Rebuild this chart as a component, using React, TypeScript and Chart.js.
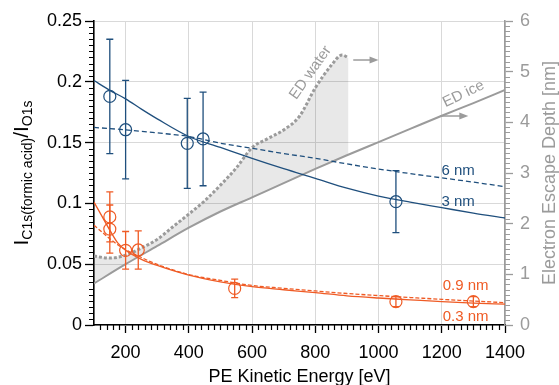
import React, { useEffect, useRef } from "react";
import { Chart, registerables } from "chart.js";

Chart.register(...registerables);

const FONT = '"Liberation Sans", Arial, Helvetica, sans-serif';
const BLUE = "#1f4f7d";
const ORANGE = "#ef5b25";
const GRAY = "#9b9b9b";

// axis ticks
const xTicks = [200, 400, 600, 800, 1000, 1200, 1400];
const yTicks = [0, 0.05, 0.1, 0.15, 0.2, 0.25];
const yTickLabels = ["0", "0.05", "0.1", "0.15", "0.2", "0.25"];
const y2Ticks = [0, 1, 2, 3, 4, 5, 6];

// measured ratios (blue)
const blueE = [150, 200, 395, 445, 1055];
const blueRatio = [0.188, 0.1606, 0.1494, 0.153, 0.1014];
const blueErr = [0.047, 0.0405, 0.037, 0.0385, 0.0255];

// measured ratios (orange)
const orangeE = [150, 150, 200, 240, 545, 1055, 1300];
const orangeRatio = [0.0889, 0.0789, 0.0614, 0.0617, 0.0301, 0.0192, 0.0192];
const orangeErr = [0.0205, 0.0198, 0.0155, 0.0157, 0.0076, 0.0041, 0.0041];

// model curves (blue)
const blueCurveE = [100, 150, 200, 250, 300, 400, 500, 600, 700, 800, 900, 1000, 1100, 1200, 1300, 1400];
const fit3nm = [0.201, 0.193, 0.186, 0.1775, 0.1695, 0.155, 0.146, 0.137, 0.1285, 0.1206, 0.1125, 0.106, 0.101, 0.0965, 0.092, 0.088];
const fit6nm = [0.1625, 0.1615, 0.1605, 0.1593, 0.158, 0.155, 0.1495, 0.1453, 0.141, 0.1371, 0.1325, 0.1283, 0.1245, 0.121, 0.1175, 0.1137];

// model curves (orange)
const orangeCurveE = [100, 125, 150, 175, 200, 250, 300, 400, 500, 600, 700, 800, 900, 1000, 1100, 1200, 1300, 1400];
const fit03nm = [0.101, 0.0895, 0.078, 0.0675, 0.0615, 0.054, 0.049, 0.041, 0.0355, 0.0315, 0.029, 0.0266, 0.024, 0.0222, 0.0207, 0.0192, 0.018, 0.0171];
const fit09nm = [0.082, 0.0765, 0.071, 0.066, 0.062, 0.0555, 0.0498, 0.0415, 0.0367, 0.0325, 0.0302, 0.028, 0.0259, 0.0242, 0.0226, 0.0211, 0.0197, 0.0184];

// electron escape depth (nm)
const iceE = [100, 200, 300, 400, 500, 600, 700, 800, 900, 1000, 1100, 1200, 1300, 1400];
const iceDepth = [0.82, 1.2, 1.56, 1.92, 2.24, 2.52, 2.8, 3.08, 3.35, 3.61, 3.87, 4.13, 4.38, 4.64];
const waterE = [100, 150, 200, 250, 300, 350, 400, 450, 500, 550, 600, 650, 700, 750, 800, 850, 885, 905];
const waterDepth = [1.36, 1.32, 1.38, 1.52, 1.69, 1.94, 2.19, 2.45, 2.76, 3.1, 3.5, 3.68, 3.85, 4.12, 4.68, 5.12, 5.33, 5.27];

const pts = (xs: number[], ys: number[]) => xs.map((x, i) => ({ x, y: ys[i] }));

const extrasPlugin = {
  id: "extras",
  afterDatasetsDraw(chart: any) {
    const ctx = chart.ctx as CanvasRenderingContext2D;
    const xs = chart.scales.x;
    const ys = chart.scales.y;
    const y2 = chart.scales.y2;
    ctx.save();
    const drawErr = (E: number[], V: number[], Er: number[], color: string) => {
      ctx.strokeStyle = color;
      ctx.lineWidth = 1.3;
      E.forEach((e, i) => {
        const px = xs.getPixelForValue(e);
        const top = ys.getPixelForValue(V[i] + Er[i]);
        const bot = ys.getPixelForValue(V[i] - Er[i]);
        ctx.beginPath();
        ctx.moveTo(px, top);
        ctx.lineTo(px, bot);
        ctx.moveTo(px - 3.5, top);
        ctx.lineTo(px + 3.5, top);
        ctx.moveTo(px - 3.5, bot);
        ctx.lineTo(px + 3.5, bot);
        ctx.stroke();
      });
    };
    drawErr(blueE, blueRatio, blueErr, BLUE);
    drawErr(orangeE, orangeRatio, orangeErr, ORANGE);

    // arrows
    const arrow = (e1: number, e2: number, d: number) => {
      const x1 = xs.getPixelForValue(e1);
      const x2 = xs.getPixelForValue(e2);
      const py = y2.getPixelForValue(d);
      ctx.strokeStyle = GRAY;
      ctx.fillStyle = GRAY;
      ctx.lineWidth = 1.5;
      ctx.beginPath();
      ctx.moveTo(x1, py);
      ctx.lineTo(x2 - 6, py);
      ctx.stroke();
      ctx.beginPath();
      ctx.moveTo(x2, py);
      ctx.lineTo(x2 - 9, py - 3.5);
      ctx.lineTo(x2 - 9, py + 3.5);
      ctx.closePath();
      ctx.fill();
    };
    arrow(920, 1000, 5.23);
    arrow(1194, 1284, 4.125);

    const rotText = (t: string, e: number, d: number, deg: number) => {
      ctx.save();
      ctx.translate(xs.getPixelForValue(e), y2.getPixelForValue(d));
      ctx.rotate((deg * Math.PI) / 180);
      ctx.font = `15px ${FONT}`;
      ctx.fillStyle = GRAY;
      ctx.textAlign = "center";
      ctx.textBaseline = "middle";
      ctx.fillText(t, 0, 0);
      ctx.restore();
    };
    rotText("ED water", 785, 4.98, -55);
    rotText("ED ice", 1269, 4.56, -26);

    const label = (t: string, e: number, v: number, color: string) => {
      ctx.font = `15px ${FONT}`;
      ctx.fillStyle = color;
      ctx.textAlign = "left";
      ctx.textBaseline = "middle";
      ctx.fillText(t, xs.getPixelForValue(e), ys.getPixelForValue(v));
    };
    label("6 nm", 1199, 0.1266, BLUE);
    label("3 nm", 1199, 0.1016, BLUE);
    label("0.9 nm", 1203, 0.0322, ORANGE);
    label("0.3 nm", 1203, 0.0066, ORANGE);
    ctx.restore();
  },
  afterDraw(chart: any) {
    const ctx = chart.ctx as CanvasRenderingContext2D;
    const ca = chart.chartArea;
    const xs = chart.scales.x;
    const ys = chart.scales.y;
    const y2 = chart.scales.y2;
    ctx.save();
    // minor ticks
    ctx.lineWidth = 1.2;
    ctx.strokeStyle = "#000";
    ctx.beginPath();
    for (let v = 120; v < 1400; v += 20) {
      if (v % 200 === 0) continue;
      const px = Math.round(xs.getPixelForValue(v)) + 0.5;
      ctx.moveTo(px, ca.bottom);
      ctx.lineTo(px, ca.bottom + 5);
    }
    for (let k = 1; k < 50; k++) {
      if (k % 10 === 0) continue;
      const py = Math.round(ys.getPixelForValue(k * 0.005)) + 0.5;
      ctx.moveTo(ca.left, py);
      ctx.lineTo(ca.left - 5, py);
    }
    ctx.stroke();
    ctx.strokeStyle = GRAY;
    ctx.beginPath();
    for (let k = 1; k < 60; k++) {
      if (k % 10 === 0) continue;
      const py = Math.round(y2.getPixelForValue(k / 10)) + 0.5;
      ctx.moveTo(ca.right, py);
      ctx.lineTo(ca.right + 5, py);
    }
    ctx.stroke();

    // x title
    ctx.fillStyle = "#000";
    ctx.font = `18px ${FONT}`;
    ctx.textAlign = "center";
    ctx.textBaseline = "middle";
    ctx.fillText("PE Kinetic Energy [eV]", (ca.left + ca.right) / 2, 377);

    // right title
    ctx.save();
    ctx.translate(555, (ca.top + ca.bottom) / 2);
    ctx.rotate(-Math.PI / 2);
    ctx.fillStyle = GRAY;
    ctx.font = `18px ${FONT}`;
    ctx.textAlign = "center";
    ctx.textBaseline = "alphabetic";
    ctx.fillText("Electron Escape Depth [nm]", 0, 0);
    ctx.restore();

    // left title
    ctx.save();
    ctx.translate(28, (ca.top + ca.bottom) / 2);
    ctx.rotate(-Math.PI / 2);
    ctx.fillStyle = "#000";
    ctx.textAlign = "left";
    ctx.textBaseline = "alphabetic";
    const parts: [string, number, number][] = [
      ["I", 21, 0],
      ["C1s(formic acid)", 14, 4],
      ["/", 21, 0],
      ["I", 21, 0],
      ["O1s", 14, 4],
    ];
    let total = 0;
    parts.forEach(([t, s]) => {
      ctx.font = `${s}px ${FONT}`;
      total += ctx.measureText(t).width;
    });
    let x = -total / 2;
    parts.forEach(([t, s, off]) => {
      ctx.font = `${s}px ${FONT}`;
      ctx.fillText(t, x, off);
      x += ctx.measureText(t).width;
    });
    ctx.restore();
    ctx.restore();
  },
};

export default function App() {
  const ref = useRef<HTMLCanvasElement>(null);
  useEffect(() => {
    document.body.style.margin = "0";
    const tickFont = { family: FONT, size: 18 };
    const chart = new Chart(ref.current as HTMLCanvasElement, {
      type: "line",
      data: {
        datasets: [
          {
            label: "ED ice",
            data: pts(iceE, iceDepth),
            yAxisID: "y2",
            borderColor: GRAY,
            borderWidth: 2,
            pointRadius: 0,
            fill: false,
            cubicInterpolationMode: "monotone",
            order: 10,
          },
          {
            label: "ED water",
            data: pts(waterE, waterDepth),
            yAxisID: "y2",
            borderColor: GRAY,
            borderWidth: 3,
            borderDash: [3, 2],
            pointRadius: 0,
            fill: { target: 0 },
            backgroundColor: "rgba(0,0,0,0.09)",
            cubicInterpolationMode: "monotone",
            order: 9,
          },
          {
            label: "3 nm",
            data: pts(blueCurveE, fit3nm),
            yAxisID: "y",
            borderColor: BLUE,
            borderWidth: 1.3,
            pointRadius: 0,
            fill: false,
            cubicInterpolationMode: "monotone",
            order: 5,
          },
          {
            label: "6 nm",
            data: pts(blueCurveE, fit6nm),
            yAxisID: "y",
            borderColor: BLUE,
            borderWidth: 1.3,
            borderDash: [5, 3],
            pointRadius: 0,
            fill: false,
            cubicInterpolationMode: "monotone",
            order: 5,
          },
          {
            label: "0.3 nm",
            data: pts(orangeCurveE, fit03nm),
            yAxisID: "y",
            borderColor: ORANGE,
            borderWidth: 1.3,
            pointRadius: 0,
            fill: false,
            cubicInterpolationMode: "monotone",
            order: 5,
          },
          {
            label: "0.9 nm",
            data: pts(orangeCurveE, fit09nm),
            yAxisID: "y",
            borderColor: ORANGE,
            borderWidth: 1.3,
            borderDash: [4, 2],
            pointRadius: 0,
            fill: false,
            cubicInterpolationMode: "monotone",
            order: 5,
          },
          {
            label: "blue data",
            data: pts(blueE, blueRatio),
            yAxisID: "y",
            showLine: false,
            pointRadius: 6,
            pointBorderWidth: 1.2,
            pointBorderColor: BLUE,
            pointBackgroundColor: "rgba(0,0,0,0)",
            borderColor: BLUE,
            order: 1,
          },
          {
            label: "orange data",
            data: pts(orangeE, orangeRatio),
            yAxisID: "y",
            showLine: false,
            pointRadius: 6,
            pointBorderWidth: 1.2,
            pointBorderColor: ORANGE,
            pointBackgroundColor: "rgba(0,0,0,0)",
            borderColor: ORANGE,
            order: 1,
          },
        ],
      },
      options: {
        responsive: false,
        animation: false,
        devicePixelRatio: 1,
        events: [],
        layout: { padding: { top: 21, left: 0, right: 0, bottom: 0 } },
        plugins: {
          legend: { display: false },
          tooltip: { enabled: false },
          filler: { propagate: false, drawTime: "beforeDatasetsDraw" },
        },
        scales: {
          x: {
            type: "linear",
            min: 100,
            max: 1400,
            afterBuildTicks: (s: any) => {
              s.ticks = xTicks.map((v) => ({ value: v }));
            },
            afterFit: (s: any) => {
              s.height = 60;
            },
            grid: { color: "#d9d9d9", lineWidth: 1, tickColor: "#000", tickLength: 8, tickWidth: 1.3 },
            border: { color: "#000", width: 1.6 },
            ticks: {
              font: tickFont,
              color: "#000",
              padding: 9,
              maxRotation: 0,
              autoSkip: false,
              callback: (v: any) => String(v),
            },
          },
          y: {
            type: "linear",
            position: "left",
            min: 0,
            max: 0.25,
            afterBuildTicks: (s: any) => {
              s.ticks = yTicks.map((v) => ({ value: v }));
            },
            afterFit: (s: any) => {
              s.width = 94;
            },
            grid: { color: "#d9d9d9", lineWidth: 1, tickColor: "#000", tickLength: 9, tickWidth: 1.3 },
            border: { color: "#000", width: 1.6 },
            ticks: {
              font: tickFont,
              color: "#000",
              padding: 3,
              autoSkip: false,
              callback: (_v: any, i: number) => yTickLabels[i],
            },
          },
          y2: {
            type: "linear",
            position: "right",
            min: 0,
            max: 6,
            afterBuildTicks: (s: any) => {
              s.ticks = y2Ticks.map((v) => ({ value: v }));
            },
            afterFit: (s: any) => {
              s.width = 54;
            },
            grid: { drawOnChartArea: false, tickColor: GRAY, tickLength: 8, tickWidth: 1.3 },
            border: { color: GRAY, width: 1.6 },
            ticks: {
              font: tickFont,
              color: GRAY,
              padding: 7,
              autoSkip: false,
              callback: (v: any) => String(v),
            },
          },
        },
      } as any,
      plugins: [extrasPlugin],
    });
    return () => chart.destroy();
  }, []);
  return (
    <div style={{ position: "relative", width: 559, height: 385 }}>
      <canvas ref={ref} width={559} height={385} style={{ display: "block" }} />
    </div>
  );
}
